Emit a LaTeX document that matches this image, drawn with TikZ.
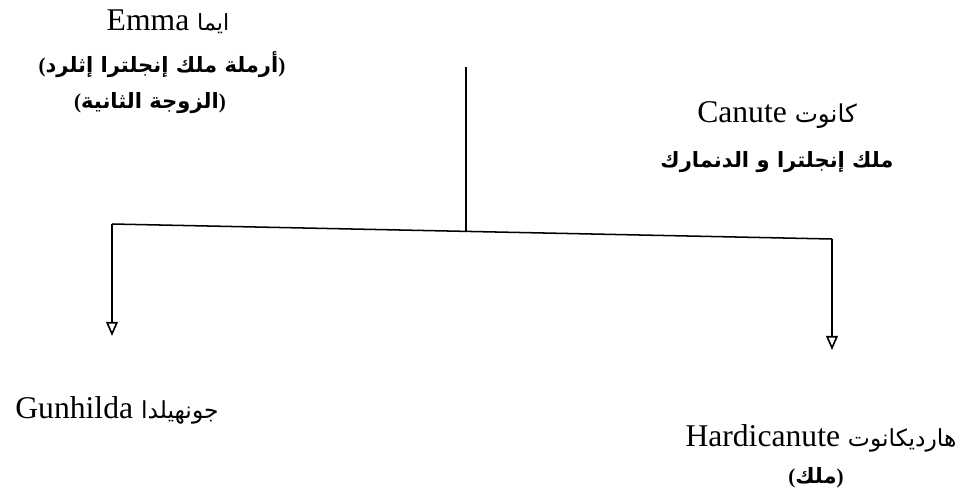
\documentclass[tikz,border=0pt]{standalone}
\usepackage{fontspec}
\setmainfont{Liberation Serif}
\newfontfamily\arabicfont[Script=Arabic]{DejaVu Sans}
\TeXXeTstate=1
\usetikzlibrary{arrows.meta}

\newcommand{\artext}[1]{{\arabicfont\beginR #1\endR}}
\newcommand{\paren}[1]{{\rmfamily(}#1{\rmfamily)}}

\tikzset{
  personname/.style={font=\fontsize{27}{30}\selectfont, inner sep=0pt},
  roletext/.style={font=\fontsize{18}{21}\selectfont\bfseries, inner sep=0pt},
  childarrow/.style={line width=1pt, -{Triangle[open, length=12pt, width=10pt, line width=1.4pt]}},
}

\begin{document}
\begin{tikzpicture}[x=0.03cm, y=-0.03cm]
    \useasboundingbox (0,0) rectangle (967,495);

    % parents
    \node[personname] (emma) at (168,22) {Emma {\fontsize{19}{21}\selectfont\artext{ايما}}};
    \node[roletext] (emmarole) at (162,65) {\paren{\artext{أرملة ملك إنجلترا إثلرد}}};
    \node[roletext] (emmawife) at (150,103) {\paren{\artext{الزوجة الثانية}}};
    \node[personname] (canute) at (777,115) {Canute {\fontsize{21}{23}\selectfont\artext{كانوت}}};
    \node[roletext] (canuterole) at (777,162) {\artext{ملك إنجلترا و الدنمارك}};

    % children
    \node[personname] (gunhilda) at (117,410) {Gunhilda {\fontsize{20}{22}\selectfont\artext{جونهيلدا}}};
    \node[personname] (hardicanute) at (821,438) {Hardicanute {\fontsize{20}{22}\selectfont\artext{هارديكانوت}}};
    \node[roletext] (hardirole) at (816,478) {\paren{\artext{ملك}}};

    \coordinate (top) at (466,67);
    \coordinate (mid) at (466,231.3);
    \coordinate (lcorner) at (112,224);
    \coordinate (rcorner) at (832,239);
    \coordinate (ltip) at (112,336);
    \coordinate (rtip) at (832,350);

    \draw[line width=1.8pt] (top) -- (mid);
    \draw[line width=1.3pt] (lcorner) -- (rcorner);
    \draw[childarrow] (lcorner) -- (ltip);
    \draw[childarrow] (rcorner) -- (rtip);
\end{tikzpicture}
\end{document}
